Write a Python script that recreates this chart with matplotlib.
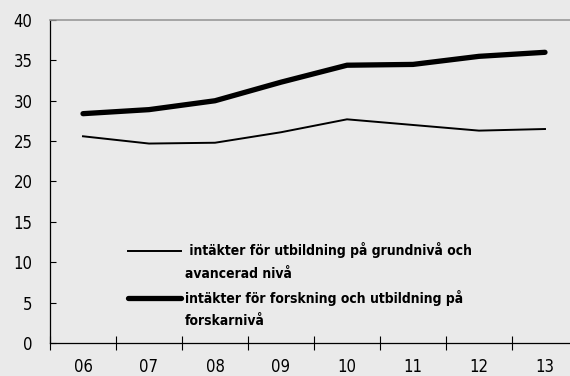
import matplotlib.pyplot as plt
import matplotlib as mpl
from matplotlib.lines import Line2D

mpl.rcParams['font.family'] = ['DejaVu Sans']
mpl.rcParams['font.stretch'] = 'condensed'

years = ['06', '07', '08', '09', '10', '11', '12', '13']
grund = [25.6, 24.7, 24.8, 26.1, 27.7, 27.0, 26.3, 26.5]
forsk = [28.4, 28.9, 30.0, 32.3, 34.4, 34.5, 35.5, 36.0]
yticks = [0, 5, 10, 15, 20, 25, 30, 35, 40]

bg = '#eaeaea'
fig = plt.figure(figsize=(5.7, 3.76), dpi=100, facecolor=bg)
ax = fig.add_axes([50 / 570, 33 / 376, 528 / 570, 323 / 376], facecolor=bg)

x = list(range(len(years)))
ax.plot(x, grund, color='black', lw=1.4)
ax.plot(x, forsk, color='black', lw=3.8, solid_capstyle='round')

ax.set_xlim(-0.5, 7.5)
ax.set_ylim(0, 40)
ax.set_yticks(yticks)
ax.set_yticklabels([str(v) for v in yticks], fontsize=12)
ax.set_xticks(x)
ax.set_xticklabels(years, fontsize=12)
ax.tick_params(axis='x', length=0, pad=11)
# separators between the years
ax.set_xticks([i - 0.5 for i in range(len(years))], minor=True)
ax.tick_params(axis='x', which='minor', direction='inout', length=9.4, width=0.8)
ax.tick_params(axis='y', direction='in', length=4, width=0.8, pad=12.5)

ax.spines['right'].set_visible(False)
ax.spines['top'].set_color('#999999')
ax.spines['top'].set_linewidth(1.2)
ax.spines['left'].set_linewidth(0.9)
ax.spines['bottom'].set_linewidth(0.9)

# legend rows: handle sits on the first line of each label
blank = Line2D([], [], color='none')
handles = [Line2D([], [], color='black', lw=1.4), blank,
           Line2D([], [], color='black', lw=3.8, solid_capstyle='round'), blank]
labels = [' intäkter för utbildning på grundnivå och', 'avancerad nivå',
          'intäkter för forskning och utbildning på', 'forskarnivå']
ax.legend(handles, labels, loc='upper left',
          bbox_to_anchor=(115 / 570, 1 - 230 / 376),
          bbox_transform=fig.transFigure, frameon=False,
          handlelength=3.85, handletextpad=0.3, labelspacing=0.62,
          prop={'weight': 'bold', 'size': 10})

fig.savefig('out.png', dpi=100, facecolor=bg)
